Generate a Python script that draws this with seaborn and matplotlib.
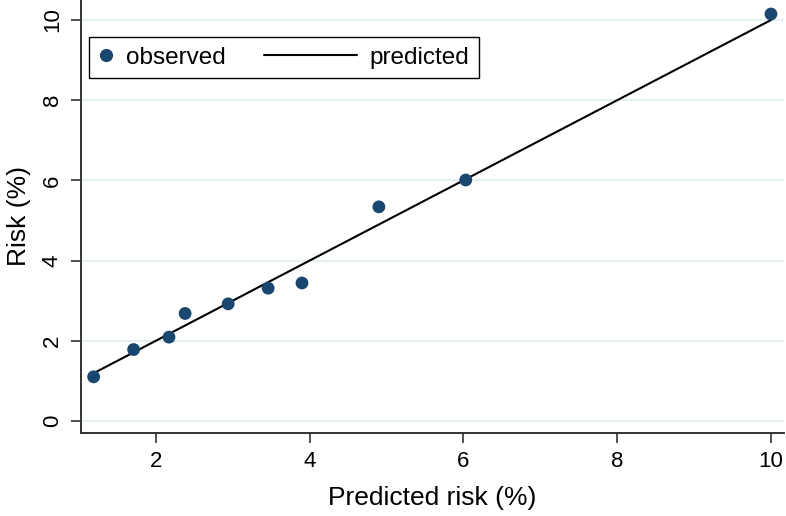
import numpy as np
import pandas as pd
import seaborn as sns
import matplotlib.pyplot as plt
from matplotlib.lines import Line2D
from matplotlib.legend_handler import HandlerLine2D

# values
predicted_risk = [1.19, 1.71, 2.17, 2.38, 2.94, 3.46, 3.90, 4.90, 6.03, 10.0]
observed_risk = [1.10, 1.78, 2.09, 2.68, 2.92, 3.31, 3.44, 5.34, 6.01, 10.15]
predicted_line = [1.19, 1.71, 2.17, 2.38, 2.94, 3.46, 3.90, 4.90, 6.03, 10.0]
x_ticks = [2, 4, 6, 8, 10]
y_ticks = [0, 2, 4, 6, 8, 10]

df = pd.DataFrame({"pred": predicted_risk, "obs": observed_risk, "line": predicted_line})

sns.set_style("white")
plt.rcParams['font.family'] = ['Liberation Sans', 'DejaVu Sans']
plt.rcParams['text.color'] = 'black'
plt.rcParams['axes.labelcolor'] = 'black'
plt.rcParams['xtick.color'] = 'black'
plt.rcParams['ytick.color'] = 'black'

navy = "#1a476f"
grid_col = "#e6eff1"


# long line key that reaches left into the column gap (Stata style legend)
class LongLine(HandlerLine2D):
    def get_xdata(self, legend, xdescent, ydescent, width, height, fontsize):
        xd, xdm = super().get_xdata(legend, xdescent, ydescent, width, height, fontsize)
        return [-xdescent + width - 67, -xdescent + width], xdm


fig = plt.figure(figsize=(7.86, 5.16), dpi=100)
ax = fig.add_axes([0.103, 0.161, 0.8945, 0.839])

for y in y_ticks:
    ax.axhline(y, color=grid_col, lw=1.5, zorder=0)

sns.lineplot(data=df, x="pred", y="line", color="black", lw=1.5, ax=ax, zorder=2)
sns.scatterplot(data=df, x="pred", y="obs", color=navy, s=85, edgecolor="none", ax=ax, zorder=3)

ax.set_xlim(1.025, 10.17)
ax.set_ylim(-0.3, 10.5)
ax.set_xticks(x_ticks)
ax.set_yticks(y_ticks)
ax.tick_params(axis="both", direction="out", length=7, width=1.2, color="#333333",
               labelsize=16, pad=6, bottom=True, left=True)
plt.setp(ax.get_yticklabels(), rotation=90, va="center")
ax.set_xlabel("Predicted risk (%)", fontsize=19, labelpad=10)
ax.set_ylabel("Risk (%)", fontsize=19, labelpad=8)

for s in ["top", "right"]:
    ax.spines[s].set_visible(False)
for s in ["left", "bottom"]:
    ax.spines[s].set_color("#333333")
    ax.spines[s].set_linewidth(1.4)

h_obs = Line2D([], [], color=navy, marker="o", ls="none", markersize=9.5, markeredgewidth=0)
h_pred = Line2D([], [], color="black", lw=1.5)
leg = ax.legend([h_obs, h_pred], ["observed", "predicted"], ncol=2, loc="upper left",
                bbox_to_anchor=(0.0114, 0.9145), fontsize=17.5, frameon=True, fancybox=False,
                edgecolor="black", framealpha=1, handlelength=0.6, handletextpad=0.51,
                columnspacing=4.8, borderpad=0.4, borderaxespad=0,
                handler_map={h_pred: LongLine()})
leg.get_frame().set_linewidth(1.0)

fig.savefig("out.png", dpi=100)
